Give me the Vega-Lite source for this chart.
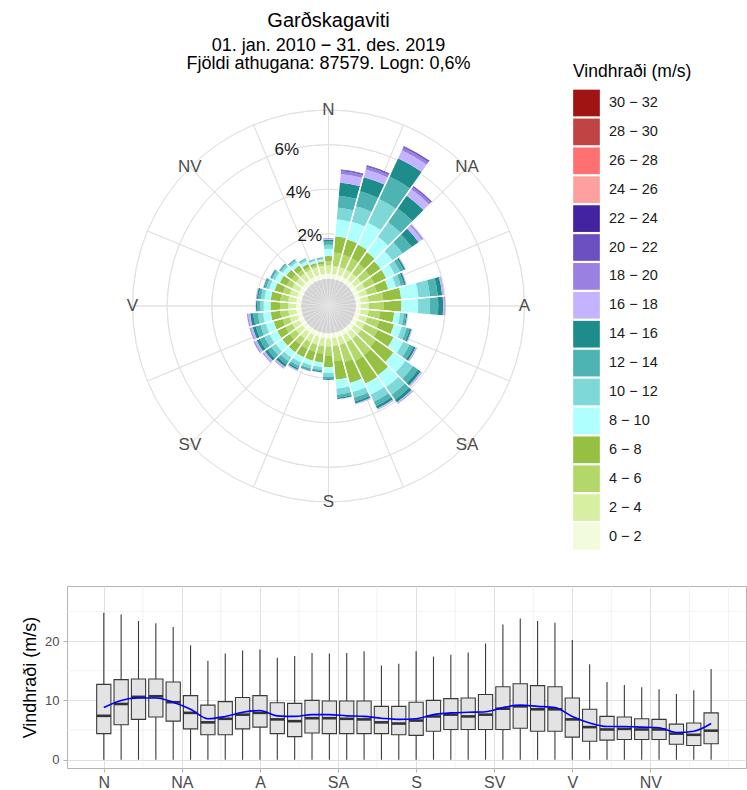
{
"$schema": "https://vega.github.io/schema/vega-lite/v6.json",
"padding": {"left": 21, "top": 11, "right": 0, "bottom": 0},
"config": {"font": "Liberation Sans", "view": {"stroke": null}},
"spacing": 61,
"datasets": {
"wind": [
{"dir":0,"lo":0,"pct":0.22},{"dir":0,"lo":2,"pct":0.36},{"dir":0,"lo":4,"pct":0.19},{"dir":0,"lo":6,"pct":0.24},{"dir":0,"lo":8,"pct":0.32},{"dir":0,"lo":10,"pct":0.18},{"dir":0,"lo":12,"pct":0.15},{"dir":0,"lo":14,"pct":0.08},{"dir":0,"lo":16,"pct":0.05},{"dir":0,"lo":18,"pct":0.02},{"dir":0,"lo":20,"pct":0.01},
{"dir":10,"lo":0,"pct":0.22},{"dir":10,"lo":2,"pct":0.36},{"dir":10,"lo":4,"pct":0.60},{"dir":10,"lo":6,"pct":0.73},{"dir":10,"lo":8,"pct":0.76},{"dir":10,"lo":10,"pct":0.53},{"dir":10,"lo":12,"pct":0.53},{"dir":10,"lo":14,"pct":0.60},{"dir":10,"lo":16,"pct":0.38},{"dir":10,"lo":18,"pct":0.13},{"dir":10,"lo":20,"pct":0.05},{"dir":10,"lo":22,"pct":0.02},
{"dir":20,"lo":0,"pct":0.22},{"dir":20,"lo":2,"pct":0.36},{"dir":20,"lo":4,"pct":0.58},{"dir":20,"lo":6,"pct":0.70},{"dir":20,"lo":8,"pct":0.83},{"dir":20,"lo":10,"pct":0.72},{"dir":20,"lo":12,"pct":0.69},{"dir":20,"lo":14,"pct":0.66},{"dir":20,"lo":16,"pct":0.35},{"dir":20,"lo":18,"pct":0.13},{"dir":20,"lo":20,"pct":0.05},{"dir":20,"lo":22,"pct":0.02},
{"dir":30,"lo":0,"pct":0.22},{"dir":30,"lo":2,"pct":0.36},{"dir":30,"lo":4,"pct":0.56},{"dir":30,"lo":6,"pct":0.68},{"dir":30,"lo":8,"pct":1.08},{"dir":30,"lo":10,"pct":1.17},{"dir":30,"lo":12,"pct":1.12},{"dir":30,"lo":14,"pct":0.90},{"dir":30,"lo":16,"pct":0.40},{"dir":30,"lo":18,"pct":0.13},{"dir":30,"lo":20,"pct":0.06},{"dir":30,"lo":22,"pct":0.02},
{"dir":40,"lo":0,"pct":0.22},{"dir":40,"lo":2,"pct":0.36},{"dir":40,"lo":4,"pct":0.52},{"dir":40,"lo":6,"pct":0.63},{"dir":40,"lo":8,"pct":0.85},{"dir":40,"lo":10,"pct":0.80},{"dir":40,"lo":12,"pct":0.75},{"dir":40,"lo":14,"pct":0.70},{"dir":40,"lo":16,"pct":0.35},{"dir":40,"lo":18,"pct":0.12},{"dir":40,"lo":20,"pct":0.05},{"dir":40,"lo":22,"pct":0.01},
{"dir":50,"lo":0,"pct":0.22},{"dir":50,"lo":2,"pct":0.36},{"dir":50,"lo":4,"pct":0.48},{"dir":50,"lo":6,"pct":0.58},{"dir":50,"lo":8,"pct":0.65},{"dir":50,"lo":10,"pct":0.55},{"dir":50,"lo":12,"pct":0.50},{"dir":50,"lo":14,"pct":0.38},{"dir":50,"lo":16,"pct":0.18},{"dir":50,"lo":18,"pct":0.05},{"dir":50,"lo":20,"pct":0.02},
{"dir":60,"lo":0,"pct":0.22},{"dir":60,"lo":2,"pct":0.36},{"dir":60,"lo":4,"pct":0.48},{"dir":60,"lo":6,"pct":0.58},{"dir":60,"lo":8,"pct":0.42},{"dir":60,"lo":10,"pct":0.27},{"dir":60,"lo":12,"pct":0.17},{"dir":60,"lo":14,"pct":0.08},{"dir":60,"lo":16,"pct":0.03},{"dir":60,"lo":18,"pct":0.01},
{"dir":70,"lo":0,"pct":0.22},{"dir":70,"lo":2,"pct":0.36},{"dir":70,"lo":4,"pct":0.44},{"dir":70,"lo":6,"pct":0.53},{"dir":70,"lo":8,"pct":0.36},{"dir":70,"lo":10,"pct":0.23},{"dir":70,"lo":12,"pct":0.15},{"dir":70,"lo":14,"pct":0.08},{"dir":70,"lo":16,"pct":0.02},{"dir":70,"lo":18,"pct":0.01},
{"dir":80,"lo":0,"pct":0.22},{"dir":80,"lo":2,"pct":0.36},{"dir":80,"lo":4,"pct":0.66},{"dir":80,"lo":6,"pct":0.80},{"dir":80,"lo":8,"pct":0.78},{"dir":80,"lo":10,"pct":0.52},{"dir":80,"lo":12,"pct":0.35},{"dir":80,"lo":14,"pct":0.20},{"dir":80,"lo":16,"pct":0.06},{"dir":80,"lo":18,"pct":0.02},
{"dir":90,"lo":0,"pct":0.22},{"dir":90,"lo":2,"pct":0.36},{"dir":90,"lo":4,"pct":0.66},{"dir":90,"lo":6,"pct":0.80},{"dir":90,"lo":8,"pct":0.75},{"dir":90,"lo":10,"pct":0.53},{"dir":90,"lo":12,"pct":0.37},{"dir":90,"lo":14,"pct":0.22},{"dir":90,"lo":16,"pct":0.07},{"dir":90,"lo":18,"pct":0.03},
{"dir":100,"lo":0,"pct":0.22},{"dir":100,"lo":2,"pct":0.36},{"dir":100,"lo":4,"pct":0.52},{"dir":100,"lo":6,"pct":0.63},{"dir":100,"lo":8,"pct":0.27},{"dir":100,"lo":10,"pct":0.17},{"dir":100,"lo":12,"pct":0.10},{"dir":100,"lo":14,"pct":0.05},{"dir":100,"lo":16,"pct":0.02},{"dir":100,"lo":18,"pct":0.01},
{"dir":110,"lo":0,"pct":0.22},{"dir":110,"lo":2,"pct":0.36},{"dir":110,"lo":4,"pct":0.56},{"dir":110,"lo":6,"pct":0.68},{"dir":110,"lo":8,"pct":0.36},{"dir":110,"lo":10,"pct":0.23},{"dir":110,"lo":12,"pct":0.14},{"dir":110,"lo":14,"pct":0.08},{"dir":110,"lo":16,"pct":0.03},{"dir":110,"lo":18,"pct":0.01},
{"dir":120,"lo":0,"pct":0.22},{"dir":120,"lo":2,"pct":0.36},{"dir":120,"lo":4,"pct":0.64},{"dir":120,"lo":6,"pct":0.78},{"dir":120,"lo":8,"pct":0.48},{"dir":120,"lo":10,"pct":0.31},{"dir":120,"lo":12,"pct":0.20},{"dir":120,"lo":14,"pct":0.11},{"dir":120,"lo":16,"pct":0.04},{"dir":120,"lo":18,"pct":0.02},
{"dir":130,"lo":0,"pct":0.22},{"dir":130,"lo":2,"pct":0.36},{"dir":130,"lo":4,"pct":0.80},{"dir":130,"lo":6,"pct":0.97},{"dir":130,"lo":8,"pct":0.65},{"dir":130,"lo":10,"pct":0.42},{"dir":130,"lo":12,"pct":0.27},{"dir":130,"lo":14,"pct":0.15},{"dir":130,"lo":16,"pct":0.06},{"dir":130,"lo":18,"pct":0.02},
{"dir":140,"lo":0,"pct":0.22},{"dir":140,"lo":2,"pct":0.36},{"dir":140,"lo":4,"pct":0.90},{"dir":140,"lo":6,"pct":1.10},{"dir":140,"lo":8,"pct":0.65},{"dir":140,"lo":10,"pct":0.42},{"dir":140,"lo":12,"pct":0.27},{"dir":140,"lo":14,"pct":0.15},{"dir":140,"lo":16,"pct":0.06},{"dir":140,"lo":18,"pct":0.02},
{"dir":150,"lo":0,"pct":0.22},{"dir":150,"lo":2,"pct":0.36},{"dir":150,"lo":4,"pct":0.92},{"dir":150,"lo":6,"pct":1.12},{"dir":150,"lo":8,"pct":0.55},{"dir":150,"lo":10,"pct":0.35},{"dir":150,"lo":12,"pct":0.22},{"dir":150,"lo":14,"pct":0.12},{"dir":150,"lo":16,"pct":0.05},{"dir":150,"lo":18,"pct":0.01},
{"dir":160,"lo":0,"pct":0.22},{"dir":160,"lo":2,"pct":0.36},{"dir":160,"lo":4,"pct":0.80},{"dir":160,"lo":6,"pct":0.97},{"dir":160,"lo":8,"pct":0.42},{"dir":160,"lo":10,"pct":0.27},{"dir":160,"lo":12,"pct":0.17},{"dir":160,"lo":14,"pct":0.09},{"dir":160,"lo":16,"pct":0.03},{"dir":160,"lo":18,"pct":0.01},
{"dir":170,"lo":0,"pct":0.22},{"dir":170,"lo":2,"pct":0.36},{"dir":170,"lo":4,"pct":0.68},{"dir":170,"lo":6,"pct":0.83},{"dir":170,"lo":8,"pct":0.40},{"dir":170,"lo":10,"pct":0.27},{"dir":170,"lo":12,"pct":0.14},{"dir":170,"lo":14,"pct":0.06},{"dir":170,"lo":16,"pct":0.02},
{"dir":180,"lo":0,"pct":0.22},{"dir":180,"lo":2,"pct":0.36},{"dir":180,"lo":4,"pct":0.41},{"dir":180,"lo":6,"pct":0.51},{"dir":180,"lo":8,"pct":0.27},{"dir":180,"lo":10,"pct":0.18},{"dir":180,"lo":12,"pct":0.09},{"dir":180,"lo":14,"pct":0.04},{"dir":180,"lo":16,"pct":0.01},
{"dir":190,"lo":0,"pct":0.22},{"dir":190,"lo":2,"pct":0.36},{"dir":190,"lo":4,"pct":0.33},{"dir":190,"lo":6,"pct":0.41},{"dir":190,"lo":8,"pct":0.20},{"dir":190,"lo":10,"pct":0.13},{"dir":190,"lo":12,"pct":0.07},{"dir":190,"lo":14,"pct":0.04},{"dir":190,"lo":16,"pct":0.01},
{"dir":200,"lo":0,"pct":0.22},{"dir":200,"lo":2,"pct":0.36},{"dir":200,"lo":4,"pct":0.33},{"dir":200,"lo":6,"pct":0.41},{"dir":200,"lo":8,"pct":0.22},{"dir":200,"lo":10,"pct":0.14},{"dir":200,"lo":12,"pct":0.08},{"dir":200,"lo":14,"pct":0.04},{"dir":200,"lo":16,"pct":0.02},
{"dir":210,"lo":0,"pct":0.22},{"dir":210,"lo":2,"pct":0.36},{"dir":210,"lo":4,"pct":0.33},{"dir":210,"lo":6,"pct":0.41},{"dir":210,"lo":8,"pct":0.27},{"dir":210,"lo":10,"pct":0.17},{"dir":210,"lo":12,"pct":0.12},{"dir":210,"lo":14,"pct":0.07},{"dir":210,"lo":16,"pct":0.04},{"dir":210,"lo":18,"pct":0.01},
{"dir":220,"lo":0,"pct":0.22},{"dir":220,"lo":2,"pct":0.36},{"dir":220,"lo":4,"pct":0.33},{"dir":220,"lo":6,"pct":0.41},{"dir":220,"lo":8,"pct":0.30},{"dir":220,"lo":10,"pct":0.20},{"dir":220,"lo":12,"pct":0.18},{"dir":220,"lo":14,"pct":0.12},{"dir":220,"lo":16,"pct":0.07},{"dir":220,"lo":18,"pct":0.03},
{"dir":230,"lo":0,"pct":0.22},{"dir":230,"lo":2,"pct":0.36},{"dir":230,"lo":4,"pct":0.33},{"dir":230,"lo":6,"pct":0.41},{"dir":230,"lo":8,"pct":0.36},{"dir":230,"lo":10,"pct":0.24},{"dir":230,"lo":12,"pct":0.21},{"dir":230,"lo":14,"pct":0.14},{"dir":230,"lo":16,"pct":0.09},{"dir":230,"lo":18,"pct":0.03},{"dir":230,"lo":20,"pct":0.01},
{"dir":240,"lo":0,"pct":0.22},{"dir":240,"lo":2,"pct":0.36},{"dir":240,"lo":4,"pct":0.33},{"dir":240,"lo":6,"pct":0.41},{"dir":240,"lo":8,"pct":0.38},{"dir":240,"lo":10,"pct":0.26},{"dir":240,"lo":12,"pct":0.23},{"dir":240,"lo":14,"pct":0.15},{"dir":240,"lo":16,"pct":0.10},{"dir":240,"lo":18,"pct":0.04},{"dir":240,"lo":20,"pct":0.01},
{"dir":250,"lo":0,"pct":0.22},{"dir":250,"lo":2,"pct":0.36},{"dir":250,"lo":4,"pct":0.33},{"dir":250,"lo":6,"pct":0.41},{"dir":250,"lo":8,"pct":0.37},{"dir":250,"lo":10,"pct":0.25},{"dir":250,"lo":12,"pct":0.22},{"dir":250,"lo":14,"pct":0.14},{"dir":250,"lo":16,"pct":0.09},{"dir":250,"lo":18,"pct":0.04},{"dir":250,"lo":20,"pct":0.01},
{"dir":260,"lo":0,"pct":0.22},{"dir":260,"lo":2,"pct":0.36},{"dir":260,"lo":4,"pct":0.36},{"dir":260,"lo":6,"pct":0.43},{"dir":260,"lo":8,"pct":0.35},{"dir":260,"lo":10,"pct":0.23},{"dir":260,"lo":12,"pct":0.21},{"dir":260,"lo":14,"pct":0.14},{"dir":260,"lo":16,"pct":0.09},{"dir":260,"lo":18,"pct":0.04},{"dir":260,"lo":20,"pct":0.01},
{"dir":270,"lo":0,"pct":0.22},{"dir":270,"lo":2,"pct":0.36},{"dir":270,"lo":4,"pct":0.36},{"dir":270,"lo":6,"pct":0.43},{"dir":270,"lo":8,"pct":0.31},{"dir":270,"lo":10,"pct":0.15},{"dir":270,"lo":12,"pct":0.12},{"dir":270,"lo":14,"pct":0.07},{"dir":270,"lo":16,"pct":0.02},
{"dir":280,"lo":0,"pct":0.22},{"dir":280,"lo":2,"pct":0.36},{"dir":280,"lo":4,"pct":0.36},{"dir":280,"lo":6,"pct":0.43},{"dir":280,"lo":8,"pct":0.28},{"dir":280,"lo":10,"pct":0.16},{"dir":280,"lo":12,"pct":0.12},{"dir":280,"lo":14,"pct":0.07},{"dir":280,"lo":16,"pct":0.03},{"dir":280,"lo":18,"pct":0.01},
{"dir":290,"lo":0,"pct":0.22},{"dir":290,"lo":2,"pct":0.36},{"dir":290,"lo":4,"pct":0.32},{"dir":290,"lo":6,"pct":0.38},{"dir":290,"lo":8,"pct":0.25},{"dir":290,"lo":10,"pct":0.14},{"dir":290,"lo":12,"pct":0.09},{"dir":290,"lo":14,"pct":0.04},{"dir":290,"lo":16,"pct":0.02},
{"dir":300,"lo":0,"pct":0.22},{"dir":300,"lo":2,"pct":0.36},{"dir":300,"lo":4,"pct":0.27},{"dir":300,"lo":6,"pct":0.34},{"dir":300,"lo":8,"pct":0.25},{"dir":300,"lo":10,"pct":0.13},{"dir":300,"lo":12,"pct":0.07},{"dir":300,"lo":14,"pct":0.03},{"dir":300,"lo":16,"pct":0.01},
{"dir":310,"lo":0,"pct":0.22},{"dir":310,"lo":2,"pct":0.36},{"dir":310,"lo":4,"pct":0.23},{"dir":310,"lo":6,"pct":0.29},{"dir":310,"lo":8,"pct":0.20},{"dir":310,"lo":10,"pct":0.11},{"dir":310,"lo":12,"pct":0.06},{"dir":310,"lo":14,"pct":0.02},{"dir":310,"lo":16,"pct":0.01},
{"dir":320,"lo":0,"pct":0.22},{"dir":320,"lo":2,"pct":0.36},{"dir":320,"lo":4,"pct":0.19},{"dir":320,"lo":6,"pct":0.24},{"dir":320,"lo":8,"pct":0.18},{"dir":320,"lo":10,"pct":0.10},{"dir":320,"lo":12,"pct":0.05},{"dir":320,"lo":14,"pct":0.02},{"dir":320,"lo":16,"pct":0.01},
{"dir":330,"lo":0,"pct":0.22},{"dir":330,"lo":2,"pct":0.36},{"dir":330,"lo":4,"pct":0.13},{"dir":330,"lo":6,"pct":0.16},{"dir":330,"lo":8,"pct":0.14},{"dir":330,"lo":10,"pct":0.08},{"dir":330,"lo":12,"pct":0.04},{"dir":330,"lo":14,"pct":0.01},
{"dir":340,"lo":0,"pct":0.22},{"dir":340,"lo":2,"pct":0.36},{"dir":340,"lo":4,"pct":0.09},{"dir":340,"lo":6,"pct":0.11},{"dir":340,"lo":8,"pct":0.10},{"dir":340,"lo":10,"pct":0.05},{"dir":340,"lo":12,"pct":0.02},{"dir":340,"lo":14,"pct":0.01},
{"dir":350,"lo":0,"pct":0.22},{"dir":350,"lo":2,"pct":0.36},{"dir":350,"lo":4,"pct":0.09},{"dir":350,"lo":6,"pct":0.11},{"dir":350,"lo":8,"pct":0.09},{"dir":350,"lo":10,"pct":0.05},{"dir":350,"lo":12,"pct":0.03},{"dir":350,"lo":14,"pct":0.01}
],
"box": [
{"dir":0,"min":0,"q1":4.4,"med":7.4,"q3":12.7,"max":24.8,"mean":8.8},
{"dir":10,"min":0,"q1":5.9,"med":9.4,"q3":13.5,"max":24.5,"mean":10.0},
{"dir":20,"min":0,"q1":6.8,"med":10.6,"q3":13.6,"max":23.4,"mean":10.4},
{"dir":30,"min":0,"q1":7.2,"med":10.7,"q3":13.6,"max":23.0,"mean":10.4},
{"dir":40,"min":0,"q1":6.5,"med":9.7,"q3":13.1,"max":22.4,"mean":9.7},
{"dir":50,"min":0,"q1":5.2,"med":7.9,"q3":10.8,"max":19.3,"mean":8.5},
{"dir":60,"min":0,"q1":4.2,"med":6.3,"q3":9.2,"max":16.7,"mean":6.9},
{"dir":70,"min":0,"q1":4.2,"med":6.9,"q3":9.8,"max":17.9,"mean":7.3},
{"dir":80,"min":0,"q1":5.2,"med":7.6,"q3":10.5,"max":18.4,"mean":8.0},
{"dir":90,"min":0,"q1":5.5,"med":7.9,"q3":10.8,"max":18.6,"mean":8.3},
{"dir":100,"min":0,"q1":4.4,"med":6.8,"q3":9.6,"max":17.2,"mean":7.4},
{"dir":110,"min":0,"q1":3.9,"med":6.5,"q3":9.5,"max":17.5,"mean":7.3},
{"dir":120,"min":0,"q1":4.5,"med":7.0,"q3":10.0,"max":18.0,"mean":7.6},
{"dir":130,"min":0,"q1":4.4,"med":7.0,"q3":9.9,"max":17.9,"mean":7.6},
{"dir":140,"min":0,"q1":4.4,"med":6.9,"q3":9.9,"max":18.0,"mean":7.4},
{"dir":150,"min":0,"q1":4.4,"med":6.8,"q3":9.9,"max":18.3,"mean":7.3},
{"dir":160,"min":0,"q1":4.4,"med":6.3,"q3":9.0,"max":15.9,"mean":7.0},
{"dir":170,"min":0,"q1":4.2,"med":6.1,"q3":9.0,"max":16.2,"mean":6.8},
{"dir":180,"min":0,"q1":4.1,"med":6.6,"q3":9.7,"max":18.3,"mean":6.9},
{"dir":190,"min":0,"q1":4.8,"med":7.3,"q3":10.0,"max":17.4,"mean":7.6},
{"dir":200,"min":0,"q1":5.1,"med":7.6,"q3":10.3,"max":17.7,"mean":7.9},
{"dir":210,"min":0,"q1":5.1,"med":7.3,"q3":10.4,"max":18.1,"mean":8.0},
{"dir":220,"min":0,"q1":5.1,"med":7.6,"q3":11.0,"max":19.6,"mean":8.1},
{"dir":230,"min":0,"q1":5.1,"med":8.6,"q3":12.3,"max":22.8,"mean":8.8},
{"dir":240,"min":0,"q1":5.3,"med":9.0,"q3":12.8,"max":23.8,"mean":9.2},
{"dir":250,"min":0,"q1":4.8,"med":8.5,"q3":12.5,"max":23.4,"mean":9.0},
{"dir":260,"min":0,"q1":4.8,"med":8.5,"q3":12.3,"max":23.1,"mean":8.8},
{"dir":270,"min":0,"q1":3.8,"med":6.8,"q3":10.4,"max":20.2,"mean":7.3},
{"dir":280,"min":0,"q1":3.1,"med":5.5,"q3":8.5,"max":16.1,"mean":6.2},
{"dir":290,"min":0,"q1":3.3,"med":5.1,"q3":7.3,"max":13.1,"mean":5.6},
{"dir":300,"min":0,"q1":3.4,"med":5.2,"q3":7.2,"max":12.6,"mean":5.6},
{"dir":310,"min":0,"q1":3.4,"med":5.1,"q3":6.9,"max":12.2,"mean":5.5},
{"dir":320,"min":0,"q1":3.4,"med":5.1,"q3":6.8,"max":11.9,"mean":5.4},
{"dir":330,"min":0,"q1":2.6,"med":4.4,"q3":6.0,"max":11.1,"mean":4.6},
{"dir":340,"min":0,"q1":2.4,"med":4.2,"q3":6.2,"max":11.7,"mean":4.8},
{"dir":350,"min":0,"q1":2.7,"med":4.9,"q3":7.9,"max":15.3,"mean":6.1}
]
},
"vconcat": [
{
"width": 523, "height": 436,
"title": {"text": "Garðskagaviti", "subtitle": ["01. jan. 2010 − 31. des. 2019", "Fjöldi athugana: 87579. Logn: 0,6%"], "anchor": "middle", "frame": "group", "fontSize": 20, "fontWeight": "normal", "color": "#000000", "subtitleFontSize": 18, "subtitleColor": "#000000", "subtitlePadding": 6, "subtitleLineHeight": 18, "offset": 15},
"layer": [
{
"data": {"values": [{"ring": 2}, {"ring": 4}, {"ring": 6}, {"ring": 7.556}]},
"mark": {"type": "arc", "filled": false, "color": "#e0e0e0", "strokeWidth": 0.9},
"encoding": {
"theta": {"datum": 0, "type": "quantitative", "scale": {"type": "linear", "domain": [0, 360], "range": [0, 6.283185307]}},
"theta2": {"datum": 360},
"radius": {"field": "ring", "type": "quantitative", "scale": {"type": "linear", "domain": [0, 8], "range": [27.5, 205.9], "zero": false, "nice": false}},
"radius2": {"field": "ring"}
}
},
{
"data": {"values": [{"ang": 0}, {"ang": 22.5}, {"ang": 45}, {"ang": 67.5}, {"ang": 90}, {"ang": 112.5}, {"ang": 135}, {"ang": 157.5}, {"ang": 180}, {"ang": 202.5}, {"ang": 225}, {"ang": 247.5}, {"ang": 270}, {"ang": 292.5}, {"ang": 315}, {"ang": 337.5}]},
"mark": {"type": "arc", "filled": false, "color": "#e0e0e0", "strokeWidth": 0.9},
"encoding": {
"theta": {"field": "ang", "type": "quantitative", "stack": null},
"theta2": {"field": "ang"},
"radius": {"datum": 7.556, "type": "quantitative"},
"radius2": {"value": 0}
}
},
{
"data": {"name": "wind"},
"transform": [{"filter": "datum.lo == 0"}, {"calculate": "datum.dir - 5", "as": "a0"}, {"calculate": "datum.dir + 5", "as": "a1"}],
"mark": {"type": "arc", "fill": "#d3d3d3", "stroke": "#e6e6e6", "strokeWidth": 0.6},
"encoding": {
"theta": {"field": "a0", "type": "quantitative", "stack": null},
"theta2": {"field": "a1"},
"radius": {"datum": 0, "type": "quantitative"},
"radius2": {"value": 0}
}
},
{
"data": {"name": "wind"},
"transform": [
{"calculate": "datum.dir - 5", "as": "a0"},
{"calculate": "datum.dir + 5", "as": "a1"},
{"calculate": "datum.lo + ' − ' + (datum.lo + 2)", "as": "bin"},
{"stack": "pct", "groupby": ["dir"], "sort": [{"field": "lo", "order": "ascending"}], "as": ["r0", "r1"]}
],
"mark": {"type": "arc"},
"encoding": {
"theta": {"field": "a0", "type": "quantitative", "stack": null},
"theta2": {"field": "a1"},
"radius": {"field": "r1", "type": "quantitative"},
"radius2": {"field": "r0"},
"color": {"field": "bin", "type": "nominal",
"scale": {"domain": ["30 − 32","28 − 30","26 − 28","24 − 26","22 − 24","20 − 22","18 − 20","16 − 18","14 − 16","12 − 14","10 − 12","8 − 10","6 − 8","4 − 6","2 − 4","0 − 2"],
"range": ["#a01414","#c04444","#ff7070","#ffa0a0","#4423a0","#6a50c0","#9a80e0","#c4b4ff","#1f8c8c","#4eb3b3","#7fd8d8","#b0ffff","#95c042","#b3d86a","#d7efa0","#f2fbdc"]},
"legend": {"title": "Vindhraði (m/s)", "orient": "none", "legendX": 506, "legendY": -25, "titleFontSize": 17.5, "titleFontWeight": "normal", "titleColor": "#000000", "titlePadding": 9, "labelFontSize": 14.5, "labelColor": "#1a1a1a", "labelOffset": 9, "symbolType": "square", "symbolSize": 712, "symbolStrokeWidth": 0, "symbolOpacity": 1, "rowPadding": 1.9}
}
}
},
{
"data": {"name": "wind"},
"transform": [{"aggregate": [{"op": "sum", "field": "pct", "as": "tot"}], "groupby": ["dir"]}, {"calculate": "datum.dir - 5", "as": "a0"}],
"mark": {"type": "arc", "filled": false, "color": "#ffffff", "strokeWidth": 1.3},
"encoding": {
"theta": {"field": "a0", "type": "quantitative", "stack": null},
"theta2": {"field": "a0"},
"radius": {"field": "tot", "type": "quantitative"},
"radius2": {"datum": 0}
}
},
{
"data": {"name": "wind"},
"transform": [{"aggregate": [{"op": "sum", "field": "pct", "as": "tot"}], "groupby": ["dir"]}, {"calculate": "datum.dir + 5", "as": "a1"}],
"mark": {"type": "arc", "filled": false, "color": "#ffffff", "strokeWidth": 1.3},
"encoding": {
"theta": {"field": "a1", "type": "quantitative", "stack": null},
"theta2": {"field": "a1"},
"radius": {"field": "tot", "type": "quantitative"},
"radius2": {"datum": 0}
}
},
{
"data": {"values": [{"lab": "2%", "v": 2}, {"lab": "4%", "v": 4}, {"lab": "6%", "v": 6}]},
"mark": {"type": "text", "fontSize": 17, "color": "#1a1a1a", "align": "center", "baseline": "middle"},
"encoding": {
"theta": {"datum": 345, "type": "quantitative"},
"radius": {"field": "v", "type": "quantitative"},
"text": {"field": "lab"}
}
},
{
"data": {"values": [{"lab": "N", "ang": 0}, {"lab": "NA", "ang": 45}, {"lab": "A", "ang": 90}, {"lab": "SA", "ang": 135}, {"lab": "S", "ang": 180}, {"lab": "SV", "ang": 225}, {"lab": "V", "ang": 270}, {"lab": "NV", "ang": 315}]},
"mark": {"type": "text", "fontSize": 17, "color": "#4d4d4d", "align": "center", "baseline": "middle"},
"encoding": {
"theta": {"field": "ang", "type": "quantitative", "stack": null},
"radius": {"datum": 7.556, "type": "quantitative"},
"text": {"field": "lab"}
}
}
]
},
{
"width": 679, "height": 182,
"view": {"stroke": "#b3b3b3", "strokeWidth": 1},
"layer": [
{
"data": {"values": [{"g": 5}, {"g": 15}, {"g": 25}]},
"mark": {"type": "rule", "color": "#ececec", "strokeWidth": 0.7},
"encoding": {"y": {"field": "g", "type": "quantitative"}}
},
{
"data": {"values": [{"g": 22.5}, {"g": 67.5}, {"g": 112.5}, {"g": 157.5}, {"g": 202.5}, {"g": 247.5}, {"g": 292.5}, {"g": 337.5}, {"g": 360}]},
"mark": {"type": "rule", "color": "#ececec", "strokeWidth": 0.7},
"encoding": {"x": {"field": "g", "type": "quantitative"}}
},
{
"data": {"name": "box"},
"mark": {"type": "rule", "color": "#3a3a3a", "strokeWidth": 1.1},
"encoding": {
"x": {"field": "dir", "type": "quantitative",
"scale": {"domain": [-21.2, 370.1], "nice": false, "zero": false},
"axis": {"values": [0, 45, 90, 135, 180, 225, 270, 315], "labelExpr": "['N','NA','A','SA','S','SV','V','NV'][round(datum.value / 45)]", "title": null, "domain": false, "grid": true, "gridColor": "#e0e0e0", "gridWidth": 1, "tickColor": "#b3b3b3", "tickSize": 4, "labelPadding": 2, "labelFontSize": 16, "labelColor": "#4d4d4d"}},
"y": {"field": "min", "type": "quantitative",
"scale": {"domain": [-1.4, 29.3], "nice": false, "zero": false},
"axis": {"values": [0, 10, 20], "title": "Vindhraði (m/s)", "titleFontSize": 18, "titleFontWeight": "normal", "titleColor": "#000000", "titlePadding": 5, "domain": false, "grid": true, "gridColor": "#e0e0e0", "gridWidth": 1, "tickColor": "#b3b3b3", "tickSize": 4, "labelPadding": 4, "labelFontSize": 13, "labelColor": "#4d4d4d"}},
"y2": {"field": "max"}
}
},
{
"data": {"name": "box"},
"transform": [{"calculate": "datum.dir - 4.1", "as": "xl"}, {"calculate": "datum.dir + 4.1", "as": "xr"}],
"mark": {"type": "rect", "fill": "#e3e3e3", "stroke": "#3a3a3a", "strokeWidth": 1.1},
"encoding": {
"x": {"field": "xl", "type": "quantitative"},
"x2": {"field": "xr"},
"y": {"field": "q1", "type": "quantitative"},
"y2": {"field": "q3"}
}
},
{
"data": {"name": "box"},
"transform": [{"calculate": "datum.dir - 4.1", "as": "xl"}, {"calculate": "datum.dir + 4.1", "as": "xr"}],
"mark": {"type": "rule", "color": "#333333", "strokeWidth": 2.6},
"encoding": {
"x": {"field": "xl", "type": "quantitative"},
"x2": {"field": "xr"},
"y": {"field": "med", "type": "quantitative"}
}
},
{
"data": {"name": "box"},
"mark": {"type": "line", "color": "#0000ff", "strokeWidth": 1.6, "interpolate": "monotone"},
"encoding": {
"x": {"field": "dir", "type": "quantitative"},
"y": {"field": "mean", "type": "quantitative"}
}
}
]
}
]
}
